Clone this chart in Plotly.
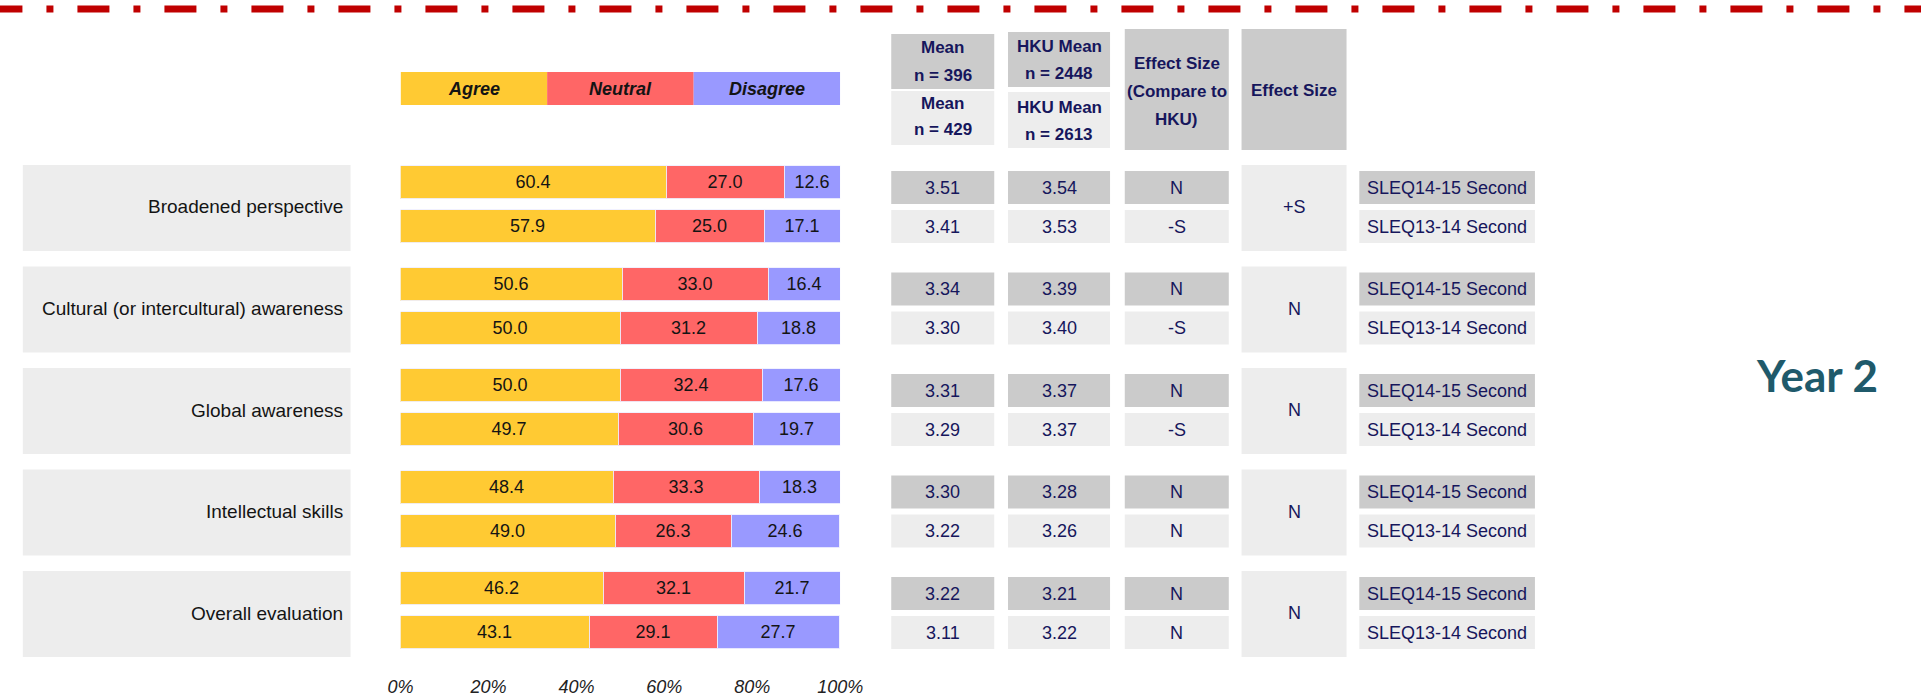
import plotly.graph_objects as go

W, H = 1921, 698

# ---- data -------------------------------------------------------------
categories = [
    "Broadened perspective",
    "Cultural (or intercultural) awareness",
    "Global awareness",
    "Intellectual skills",
    "Overall evaluation",
]
survey_rows = ["SLEQ14-15 Second", "SLEQ13-14 Second"]
legend_labels = ["Agree", "Neutral", "Disagree"]

agree_1415 = [60.4, 50.6, 50.0, 48.4, 46.2]
neutral_1415 = [27.0, 33.0, 32.4, 33.3, 32.1]
disagree_1415 = [12.6, 16.4, 17.6, 18.3, 21.7]

agree_1314 = [57.9, 50.0, 49.7, 49.0, 43.1]
neutral_1314 = [25.0, 31.2, 30.6, 26.3, 29.1]
disagree_1314 = [17.1, 18.8, 19.7, 24.6, 27.7]

mean_1415 = [3.51, 3.34, 3.31, 3.30, 3.22]
hku_mean_1415 = [3.54, 3.39, 3.37, 3.28, 3.21]
es_vs_hku_1415 = ["N", "N", "N", "N", "N"]

mean_1314 = [3.41, 3.30, 3.29, 3.22, 3.11]
hku_mean_1314 = [3.53, 3.40, 3.37, 3.26, 3.22]
es_vs_hku_1314 = ["-S", "-S", "-S", "N", "N"]

es_between_years = ["+S", "N", "N", "N", "N"]

tick_vals = [0, 20, 40, 60, 80, 100]
tick_text = ["0%", "20%", "40%", "60%", "80%", "100%"]

header_mean_1415 = ["Mean", "n = 396"]
header_mean_1314 = ["Mean", "n = 429"]
header_hku_1415 = ["HKU Mean", "n = 2448"]
header_hku_1314 = ["HKU Mean", "n = 2613"]
header_es_hku = ["Effect Size", "(Compare to", "HKU)"]
header_es = ["Effect Size"]
side_title = "Year 2"

# ---- styles -----------------------------------------------------------
SEG_COLORS = ["#FFCA33", "#FF6666", "#9999FF"]
DARK_CELL = "#CBCBCB"
LIGHT_CELL = "#EDEDED"
NAVY = "#16165C"
INK = "#141414"
SANS = "Liberation Sans, Arial, sans-serif"

# ---- layout grid (pixels) --------------------------------------------
GROUP_TOP0, GROUP_PITCH, GROUP_H = 165, 101.5, 86
BAR_OFF, BAR_H = [17.5, 61.5], 33
ROW_OFF, ROW_H = [6, 45], 33
LABEL_BOX = (10, 344)
LABEL_RIGHT = 338
BAR_X = (395, 843)
COL_MEAN = (895, 1000)
COL_HKU = (1014, 1118)
COL_ES_HKU = (1133, 1239)
COL_ES = (1252, 1359)
COL_SURVEY = (1372, 1551)
AXIS_Y = 674
LEGEND_Y = (72, 105)


def px(x):
    return x / W


def py(y):
    return 1 - y / H


def group_top(g):
    return GROUP_TOP0 + GROUP_PITCH * g


shapes = []
annotations = []


def rect(x0, x1, y0, y1, color):
    shapes.append(dict(type="rect", xref="paper", yref="paper",
                       x0=px(x0), x1=px(x1), y0=py(y0), y1=py(y1),
                       fillcolor=color, line=dict(width=0), layer="below"))


def text(x, y, s, size=18, color=NAVY, weight="normal", style="normal",
         xanchor="center", family=SANS):
    annotations.append(dict(xref="paper", yref="paper", x=px(x), y=py(y),
                            text=s, showarrow=False, xanchor=xanchor,
                            yanchor="middle", align="center",
                            font=dict(family=family, size=size, color=color,
                                      weight=weight, style=style)))


def header_lines(col, ys, lines):
    for y, line in zip(ys, lines):
        text(sum(col) / 2, y, line, size=17, weight="bold")


fig = go.Figure()

# ---- stacked bars -----------------------------------------------------
bar_y = ([group_top(g) + BAR_OFF[0] for g in range(len(categories))]
         + [group_top(g) + BAR_OFF[1] for g in range(len(categories))])
series = [agree_1415 + agree_1314,
          neutral_1415 + neutral_1314,
          disagree_1415 + disagree_1314]
for name, vals, color in zip(legend_labels, series, SEG_COLORS):
    fig.add_trace(go.Bar(
        x=vals, y=bar_y, orientation="h", width=BAR_H, name=name,
        marker=dict(color=color, line=dict(width=1, color="rgba(240,240,255,0.9)")),
        texttemplate="%{x:.1f}", textposition="inside",
        insidetextanchor="middle", constraintext="none",
        textfont=dict(family=SANS, size=18, color=INK),
        hoverinfo="skip", showlegend=False,
    ))

# ---- legend key above the bars -----------------------------------------
seg = 100 / len(legend_labels)
for i, (lab, color) in enumerate(zip(legend_labels, SEG_COLORS)):
    shapes.append(dict(type="rect", xref="x", yref="y",
                       x0=i * seg, x1=(i + 1) * seg,
                       y0=LEGEND_Y[0], y1=LEGEND_Y[1],
                       fillcolor=color, line=dict(width=0), layer="below"))
    annotations.append(dict(xref="x", yref="y", x=(i + 0.5) * seg,
                            y=(LEGEND_Y[0] + LEGEND_Y[1]) / 2, text=lab,
                            showarrow=False, xanchor="center", yanchor="middle",
                            font=dict(family=SANS, size=18, color=INK,
                                      weight="bold", style="italic")))

# ---- table headers ----------------------------------------------------
rect(COL_MEAN[0], COL_MEAN[1], 34, 89, DARK_CELL)
rect(COL_MEAN[0], COL_MEAN[1], 91, 145, LIGHT_CELL)
header_lines(COL_MEAN, [48, 75], header_mean_1415)
header_lines(COL_MEAN, [103, 130], header_mean_1314)

rect(COL_HKU[0], COL_HKU[1], 32, 87, DARK_CELL)
rect(COL_HKU[0], COL_HKU[1], 92, 148, LIGHT_CELL)
header_lines(COL_HKU, [47, 73], header_hku_1415)
header_lines(COL_HKU, [107, 135], header_hku_1314)

rect(COL_ES_HKU[0], COL_ES_HKU[1], 29, 150, DARK_CELL)
header_lines(COL_ES_HKU, [63, 92, 120], header_es_hku)

rect(COL_ES[0], COL_ES[1], 29, 150, DARK_CELL)
header_lines(COL_ES, [91], header_es)

# ---- per-item rows ------------------------------------------------------
for g, cat in enumerate(categories):
    top = group_top(g)
    rect(LABEL_BOX[0], LABEL_BOX[1], top, top + GROUP_H, LIGHT_CELL)
    text(LABEL_RIGHT, top + 42, cat, size=19, color=INK, xanchor="right")

    rows = [(mean_1415[g], hku_mean_1415[g], es_vs_hku_1415[g]),
            (mean_1314[g], hku_mean_1314[g], es_vs_hku_1314[g])]
    for r, (m, hk, es) in enumerate(rows):
        fill = DARK_CELL if r == 0 else LIGHT_CELL
        y0 = top + ROW_OFF[r]
        yc = y0 + ROW_H / 2
        for col, label in ((COL_MEAN, f"{m:.2f}"), (COL_HKU, f"{hk:.2f}"),
                           (COL_ES_HKU, es), (COL_SURVEY, survey_rows[r])):
            rect(col[0], col[1], y0, y0 + ROW_H, fill)
            text(sum(col) / 2, yc, label, size=18)

    rect(COL_ES[0], COL_ES[1], top, top + GROUP_H, LIGHT_CELL)
    text(sum(COL_ES) / 2, top + 42, es_between_years[g], size=18)

# ---- decorative dash-dot rule at the top --------------------------------
shapes.append(dict(type="line", xref="paper", yref="paper",
                   x0=px(-23), x1=px(W + 50), y0=py(9), y1=py(9),
                   line=dict(color="#C00000", width=7, dash="32px,24px,7px,24px")))

# ---- side title ----------------------------------------------------------
text(1838, 375, side_title, size=44, color="#1F5A6B", weight="bold",
     family="Lato, Open Sans, sans-serif")

fig.update_layout(
    width=W, height=H,
    margin=dict(l=0, r=0, t=0, b=0),
    paper_bgcolor="white", plot_bgcolor="rgba(0,0,0,0)",
    barmode="stack", bargap=0,
    shapes=shapes, annotations=annotations,
    xaxis=dict(domain=[px(BAR_X[0]), px(BAR_X[1])], range=[0, 100],
               anchor="free", position=py(AXIS_Y),
               tickvals=tick_vals, ticktext=tick_text, ticks="",
               showgrid=False, zeroline=False, showline=False,
               tickfont=dict(family=SANS, size=18, color="#222222",
                             style="italic"),
               fixedrange=True),
    yaxis=dict(domain=[0, 1], range=[H, 0], visible=False, fixedrange=True),
)

fig.write_html("out.html")
